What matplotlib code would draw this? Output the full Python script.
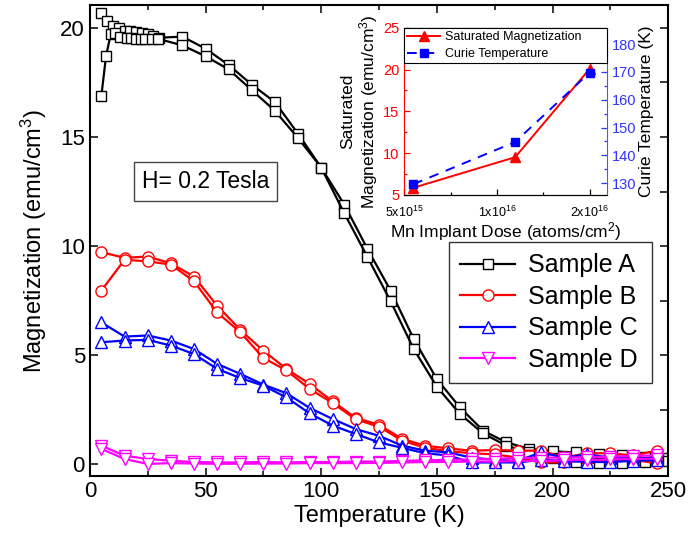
import matplotlib
matplotlib.use("Agg")
import matplotlib.pyplot as plt
from matplotlib.ticker import FixedLocator, FixedFormatter, MultipleLocator

plt.rcParams['font.family'] = ['Liberation Sans', 'DejaVu Sans']
plt.rcParams['mathtext.fontset'] = 'custom'
plt.rcParams['mathtext.rm'] = 'Liberation Sans'
plt.rcParams['mathtext.default'] = 'regular'

# ---- main panel data: magnetization vs temperature (two branches per sample)
TA1 = [5, 7.5, 10, 12.5, 15, 17.5, 20, 22.5, 25, 27.5, 30,
       40, 50, 60, 70, 80, 90, 100, 110, 120, 130, 140, 150, 160, 170, 180,
       190, 200, 210, 220, 230, 240, 250]
MA1 = [20.7, 20.3, 20.1, 20.0, 19.85, 19.85, 19.8, 19.75, 19.7, 19.65, 19.55,
       19.6, 19.05, 18.3, 17.4, 16.6, 15.15, 13.6, 11.9, 9.87, 7.96, 5.74, 3.9,
       2.6, 1.54, 1.0, 0.7, 0.59, 0.54, 0.45, 0.4, 0.35, 0.3]
TA2 = [5, 7, 9, 11, 13, 16, 18, 20, 22, 24, 27, 29.5,
       40, 50, 60, 70, 80, 90, 100, 110, 120, 130, 140, 150, 160, 170, 180,
       190, 200, 210, 220, 230, 240, 250]
MA2 = [16.9, 18.7, 19.7, 19.75, 19.6, 19.55, 19.55, 19.5, 19.5, 19.5, 19.5, 19.5,
       19.2, 18.7, 18.1, 17.15, 16.2, 14.95, 13.6, 11.5, 9.5, 7.47, 5.28, 3.55,
       2.3, 1.41, 0.85, 0.54, 0.3, 0.1, 0.05, 0.05, 0.1, 0.15]

T_bcd = [5, 15, 25, 35, 45, 55, 65, 75, 85, 95, 105, 115, 125, 135, 145, 155,
         165, 175, 185, 195, 205, 215, 225, 235, 245]
MB1 = [9.72, 9.46, 9.52, 9.21, 8.6, 7.27, 6.16, 5.2, 4.37, 3.68, 2.88, 2.12,
       1.81, 1.16, 0.85, 0.72, 0.62, 0.65, 0.62, 0.62, 0.31, 0.5, 0.5, 0.4, 0.62]
MB2 = [7.96, 9.37, 9.3, 9.15, 8.39, 6.96, 6.05, 4.87, 4.3, 3.45, 2.8, 2.05,
       1.72, 1.08, 0.75, 0.6, 0.5, 0.45, 0.3, 0.08, 0.08, 0.2, 0.17, 0.2, 0.04]
MC1 = [6.5, 5.85, 5.9, 5.67, 5.28, 4.6, 4.14, 3.65, 3.25, 2.58, 2.07, 1.61,
       1.3, 0.85, 0.62, 0.54, 0.3, 0.2, 0.15, 0.54, 0.3, 0.45, 0.3, 0.25, 0.3]
MC2 = [5.59, 5.67, 5.7, 5.44, 5.05, 4.37, 3.95, 3.6, 3.06, 2.33, 1.77, 1.38,
       1.0, 0.75, 0.5, 0.4, 0.08, 0.08, 0.08, 0.2, 0.15, 0.1, 0.1, 0.15, 0.2]
MD1 = [0.85, 0.39, 0.24, 0.16, 0.1, 0.08, 0.08, 0.1, 0.08, 0.1, 0.1, 0.12,
       0.12, 0.15, 0.18, 0.2, 0.22, 0.25, 0.28, 0.3, 0.3, 0.32, 0.35, 0.38, 0.4]
MD2 = [0.7, 0.24, 0.01, 0.05, 0.03, 0.02, 0.02, 0.03, 0.03, 0.05, 0.05, 0.05,
       0.06, 0.08, 0.1, 0.1, 0.12, 0.12, 0.15, 0.15, 0.18, 0.2, 0.22, 0.25, 0.25]

# ---- inset data
dose = [5.35e15, 1.145e16, 2.0e16]
sat_mag = [5.84, 9.5, 20.1]
curie_T = [129.6, 144.8, 169.8]

fig = plt.figure(figsize=(6.91, 5.55), dpi=100)
ax = fig.add_axes([0.130, 0.142, 0.837, 0.849])

mk = dict(mfc='white', lw=1.6, mew=1.0)
la, = ax.plot(TA1, MA1, color='black', marker='s', ms=7, label='Sample A', **mk)
ax.plot(TA2, MA2, color='black', marker='s', ms=7, **mk)
lb, = ax.plot(T_bcd, MB1, color='red', marker='o', ms=8, label='Sample B', **mk)
ax.plot(T_bcd, MB2, color='red', marker='o', ms=8, **mk)
lc, = ax.plot(T_bcd, MC1, color='blue', marker='^', ms=8, label='Sample C', **mk)
ax.plot(T_bcd, MC2, color='blue', marker='^', ms=8, **mk)
ld, = ax.plot(T_bcd, MD1, color='magenta', marker='v', ms=8, label='Sample D', **mk)
ax.plot(T_bcd, MD2, color='magenta', marker='v', ms=8, **mk)

ax.set_xlim(0, 250)
ax.set_ylim(-0.55, 21.05)
ax.xaxis.set_major_locator(MultipleLocator(50))
ax.xaxis.set_minor_locator(MultipleLocator(25))
ax.yaxis.set_major_locator(MultipleLocator(5))
ax.yaxis.set_minor_locator(MultipleLocator(2.5))
ax.tick_params(which='both', direction='in', top=True, right=True, labelsize=16,
               width=1.1)
ax.tick_params(which='major', length=6)
ax.tick_params(which='minor', length=3.5)
ax.tick_params(axis='y', which='minor', left=False, right=True, length=6)
for s in ax.spines.values():
    s.set_linewidth(1.5)
ax.set_xlabel('Temperature (K)', fontsize=17, labelpad=2)
ax.set_ylabel('Magnetization (emu/cm$^{3}$)', fontsize=17, labelpad=8)

ax.text(0.09, 0.625, 'H= 0.2 Tesla', transform=ax.transAxes, fontsize=16.5,
        va='center', ha='left',
        bbox=dict(boxstyle='square,pad=0.35', fc='white', ec='#444444', lw=1.0))

leg = ax.legend(handles=[la, lb, lc, ld], loc='upper left',
                bbox_to_anchor=(0.621, 0.204, 0.351, 0.293), mode='expand',
                fontsize=18, handlelength=2.2, labelspacing=0.3,
                borderaxespad=0, fancybox=False, framealpha=1,
                edgecolor='#333333', borderpad=0.45, handletextpad=0.5)
leg.get_frame().set_linewidth(1.0)

# ---- inset
axi = fig.add_axes([0.585, 0.649, 0.293, 0.301])
lsm, = axi.plot(dose, sat_mag, color='red', marker='^', ms=7, lw=1.4,
                label='Saturated Magnetization')
axi.set_xscale('log')
axi.set_xlim(5e15, 2.27e16)
axi.set_ylim(5, 25)
axi.xaxis.set_major_locator(FixedLocator([5e15, 1e16, 2e16]))
axi.xaxis.set_major_formatter(FixedFormatter(['5x10$^{15}$', '1x10$^{16}$', '2x10$^{16}$']))
axi.xaxis.set_minor_locator(FixedLocator([7.07e15, 1.414e16]))
axi.xaxis.set_minor_formatter(FixedFormatter(['', '']))
axi.yaxis.set_major_locator(MultipleLocator(5))
axi.yaxis.set_minor_locator(MultipleLocator(2.5))
axi.tick_params(which='both', direction='in', width=0.9)
axi.tick_params(which='major', length=4)
axi.tick_params(which='minor', length=2.5)
axi.tick_params(axis='x', labelsize=9, pad=7)
axi.tick_params(axis='y', which='both', colors='red', labelcolor='red',
                labelsize=10.5)
axi.spines['left'].set_color('red')
axi.spines['right'].set_visible(False)
axi.set_xlabel('Mn Implant Dose (atoms/cm$^{2}$)', fontsize=12.5, labelpad=0)
axi.set_ylabel('Saturated\nMagnetization (emu/cm$^{3}$)', fontsize=12.5,
               labelpad=2, linespacing=1.1)

ax2 = axi.twinx()
lct, = ax2.plot(dose, curie_T, color='blue', marker='s', ms=6, lw=1.4,
                ls=(0, (5, 4)), label='Curie Temperature')
ax2.set_ylim(125.8, 185.9)
ax2.yaxis.set_major_locator(MultipleLocator(10))
ax2.yaxis.set_minor_locator(MultipleLocator(5))
ax2.tick_params(which='both', direction='in', labelsize=10.5, width=0.9,
                colors='#3333ff', labelcolor='#3333ff')
ax2.tick_params(which='major', length=4)
ax2.tick_params(which='minor', length=2.5)
ax2.spines['right'].set_color('#5555ff')
ax2.spines['left'].set_visible(False)
ax2.set_ylabel('Curie Temperature (K)', fontsize=12.5, labelpad=2)

ileg = ax2.legend(handles=[lsm, lct], loc='upper left', bbox_to_anchor=(0, 0, 1, 1),
                  mode='expand', borderaxespad=0, fontsize=9, fancybox=False,
                  framealpha=1, edgecolor='black', handlelength=2.6,
                  labelspacing=0.4, borderpad=0.25, handletextpad=0.4)
ileg.get_frame().set_linewidth(0.8)

fig.savefig('out.png', dpi=100)
